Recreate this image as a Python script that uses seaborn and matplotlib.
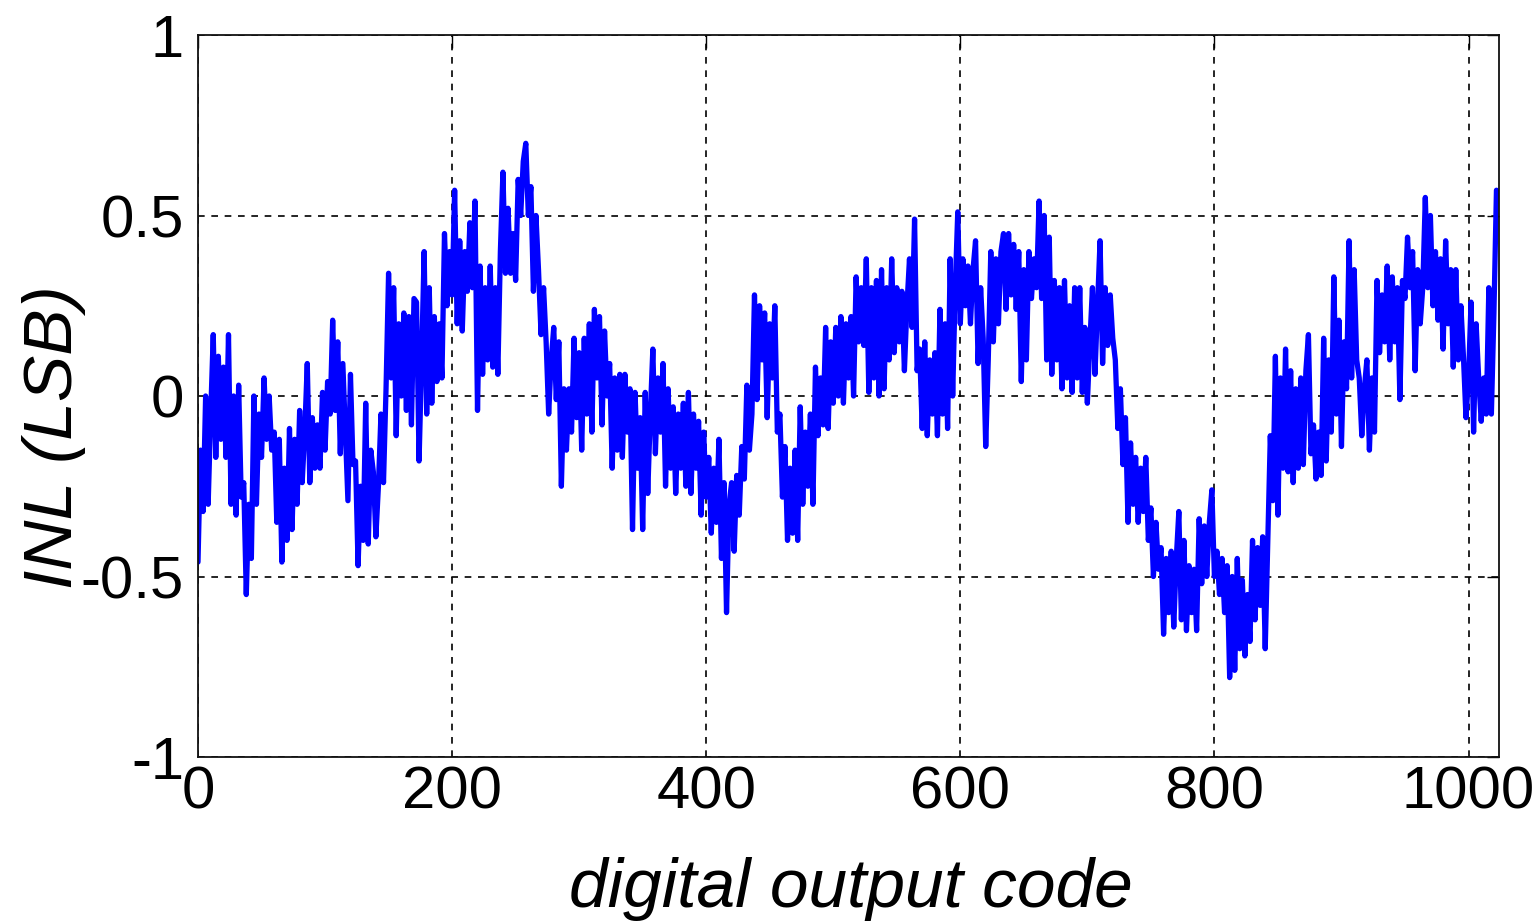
import numpy as np
import pandas as pd
import matplotlib
matplotlib.use("Agg")
import matplotlib.pyplot as plt
import seaborn as sns

# INL, one value every 2 codes (0, 2, ..., 1022)
inl = [
    -0.46, -0.15, -0.32, 0.00, -0.30, -0.05, 0.17, -0.17, 0.11, -0.12,   # 0
    0.08, -0.17, 0.17, -0.30, 0.00, -0.33, 0.03, -0.28, -0.24, -0.55,    # 20
    -0.30, -0.45, 0.00, -0.30, -0.05, -0.17, 0.05, -0.12, 0.00, -0.15,   # 40
    -0.10, -0.35, -0.12, -0.46, -0.20, -0.40, -0.09, -0.37, -0.12, -0.30,  # 60
    -0.04, -0.24, -0.10, 0.09, -0.24, -0.06, -0.20, -0.08, -0.20, 0.01,  # 80
    -0.15, 0.04, -0.05, 0.21, -0.04, 0.15, -0.16, 0.09, -0.10, -0.29,    # 100
    0.06, -0.19, -0.18, -0.47, -0.25, -0.40, -0.02, -0.41, -0.15, -0.21,  # 120
    -0.39, -0.25, -0.05, -0.24, 0.02, 0.34, 0.05, 0.30, -0.11, 0.20,     # 140
    0.00, 0.23, -0.04, 0.22, -0.08, 0.27, 0.26, -0.18, 0.10, 0.40,       # 160
    -0.05, 0.30, -0.02, 0.22, 0.04, 0.20, 0.05, 0.45, 0.25, 0.40,        # 180
    0.28, 0.57, 0.20, 0.43, 0.18, 0.40, 0.29, 0.48, 0.30, 0.54,          # 200
    -0.04, 0.36, 0.06, 0.30, 0.10, 0.36, 0.08, 0.30, 0.06, 0.40,         # 220
    0.62, 0.34, 0.52, 0.34, 0.45, 0.32, 0.60, 0.50, 0.65, 0.70,          # 240
    0.50, 0.58, 0.29, 0.50, 0.35, 0.17, 0.30, 0.15, -0.05, 0.10,         # 260
    0.19, -0.01, 0.15, -0.25, 0.02, -0.15, 0.02, -0.10, 0.16, -0.06,     # 280
    0.12, -0.15, 0.16, -0.05, 0.20, -0.10, 0.24, 0.05, 0.22, -0.08,      # 300
    0.18, 0.00, 0.09, -0.20, 0.05, -0.15, 0.06, -0.17, 0.06, -0.10,      # 320
    0.02, -0.37, 0.01, -0.20, -0.06, -0.37, 0.01, -0.27, -0.05, 0.13,    # 340
    -0.16, 0.05, -0.10, 0.09, -0.25, 0.02, -0.20, -0.03, -0.27, -0.05,   # 360
    -0.20, -0.02, -0.25, 0.01, -0.27, -0.05, -0.20, -0.07, -0.33, -0.10,  # 380
    -0.28, -0.17, -0.38, -0.20, -0.35, -0.12, -0.45, -0.24, -0.60, -0.30,  # 400
    -0.24, -0.43, -0.22, -0.33, -0.14, -0.23, 0.03, -0.15, -0.05, 0.28,  # 420
    -0.01, 0.25, 0.10, 0.23, -0.06, 0.20, 0.05, 0.25, -0.10, -0.05,      # 440
    -0.28, -0.14, -0.40, -0.20, -0.38, -0.15, -0.40, -0.03, -0.30, -0.10,  # 460
    -0.25, -0.05, -0.30, 0.08, -0.11, 0.05, -0.08, 0.19, -0.09, 0.15,    # 480
    -0.02, 0.19, 0.00, 0.22, -0.02, 0.20, 0.05, 0.22, 0.00, 0.33,        # 500
    0.15, 0.30, 0.14, 0.38, 0.01, 0.30, 0.05, 0.32, 0.00, 0.35,          # 520
    0.02, 0.30, 0.10, 0.38, 0.12, 0.30, 0.15, 0.29, 0.07, 0.25,          # 540
    0.38, 0.19, 0.49, 0.07, 0.13, -0.09, 0.15, -0.11, 0.10, -0.05,       # 560
    0.12, -0.11, 0.24, -0.05, 0.20, -0.09, 0.38, 0.00, 0.30, 0.51,       # 580
    0.20, 0.38, 0.25, 0.36, 0.20, 0.35, 0.43, 0.09, 0.30, 0.16,          # 600
    -0.14, 0.10, 0.40, 0.15, 0.38, 0.20, 0.40, 0.45, 0.24, 0.45,         # 620
    0.28, 0.42, 0.24, 0.40, 0.04, 0.35, 0.10, 0.40, 0.27, 0.38,          # 640
    0.30, 0.54, 0.27, 0.50, 0.10, 0.44, 0.06, 0.32, 0.10, 0.30,          # 660
    0.02, 0.32, 0.05, 0.25, 0.01, 0.30, 0.05, 0.30, 0.01, 0.19,          # 680
    -0.02, 0.15, 0.30, 0.06, 0.25, 0.43, 0.09, 0.30, 0.14, 0.28,         # 700
    0.16, 0.10, -0.09, 0.02, -0.19, -0.06, -0.35, -0.13, -0.30, -0.17,   # 720
    -0.35, -0.20, -0.32, -0.17, -0.40, -0.31, -0.50, -0.35, -0.48, -0.42,  # 740
    -0.66, -0.45, -0.60, -0.43, -0.64, -0.45, -0.32, -0.62, -0.40, -0.65,  # 760
    -0.47, -0.60, -0.48, -0.65, -0.34, -0.52, -0.36, -0.50, -0.35, -0.26,  # 780
    -0.50, -0.43, -0.55, -0.45, -0.60, -0.47, -0.78, -0.50, -0.76, -0.45,  # 800
    -0.70, -0.51, -0.72, -0.55, -0.68, -0.40, -0.62, -0.42, -0.58, -0.39,  # 820
    -0.70, -0.40, -0.11, -0.29, 0.11, -0.33, 0.05, -0.20, 0.13, -0.21,   # 840
    0.07, -0.24, 0.02, -0.20, 0.05, -0.19, 0.07, 0.17, -0.16, -0.08,     # 860
    -0.23, -0.10, -0.22, 0.16, -0.18, 0.10, -0.10, 0.33, -0.05, 0.21,    # 880
    -0.14, 0.15, 0.02, 0.43, 0.05, 0.35, 0.10, 0.05, -0.11, 0.02,        # 900
    0.10, -0.15, 0.05, -0.10, 0.32, 0.12, 0.28, 0.15, 0.36, 0.10,        # 920
    0.33, 0.15, 0.30, -0.01, 0.32, 0.27, 0.44, 0.30, 0.40, 0.07,         # 940
    0.35, 0.20, 0.30, 0.55, 0.30, 0.50, 0.25, 0.40, 0.21, 0.38,          # 960
    0.13, 0.43, 0.20, 0.35, 0.08, 0.35, 0.10, 0.25, 0.11, -0.06,         # 980
    0.05, 0.26, -0.10, 0.20, 0.05, -0.07, 0.05, -0.05, 0.30, -0.05,      # 1000
    0.23, 0.57,                                                          # 1020
]
code = np.arange(len(inl)) * 2

x_ticks = [0, 200, 400, 600, 800, 1000]
y_ticks = [-1, -0.5, 0, 0.5, 1]
y_labels = ["-1", "-0.5", "0", "0.5", "1"]

df = pd.DataFrame({"code": code, "inl": inl})

sns.set_theme(style="white")
plt.rcParams["font.family"] = ["Liberation Sans", "DejaVu Sans"]

fig = plt.figure(figsize=(15.4, 9.22), dpi=100)
ax = fig.add_axes([198 / 1540, 1 - 757 / 922, 1301 / 1540, 722 / 922])

sns.lineplot(data=df, x="code", y="inl", color="#0000ff", linewidth=3.8, ax=ax)

ax.set_xlim(0, 1024)
ax.set_ylim(-1, 1)
ax.set_xticks(x_ticks)
ax.set_yticks(y_ticks)
ax.set_yticklabels(y_labels)
ax.grid(True, color="black", linestyle=(0, (4, 4)), linewidth=1.2)
ax.tick_params(direction="in", length=9, width=1.0, color="black",
               labelsize=43, labelcolor="black", top=True, right=True)
ax.tick_params(axis="x", pad=6)
ax.tick_params(axis="y", pad=10)
for s in ax.spines.values():
    s.set_color("#111111")
    s.set_linewidth(1.3)

ax.set_xlabel("digital output code", fontsize=50, style="italic", color="black")
ax.set_ylabel("INL (LSB)", fontsize=50, style="italic", color="black")
ax.xaxis.set_label_coords(0.502, -0.138)
ax.yaxis.set_label_coords(-0.086, 0.443)

fig.savefig("out.png", dpi=100, facecolor="white")
